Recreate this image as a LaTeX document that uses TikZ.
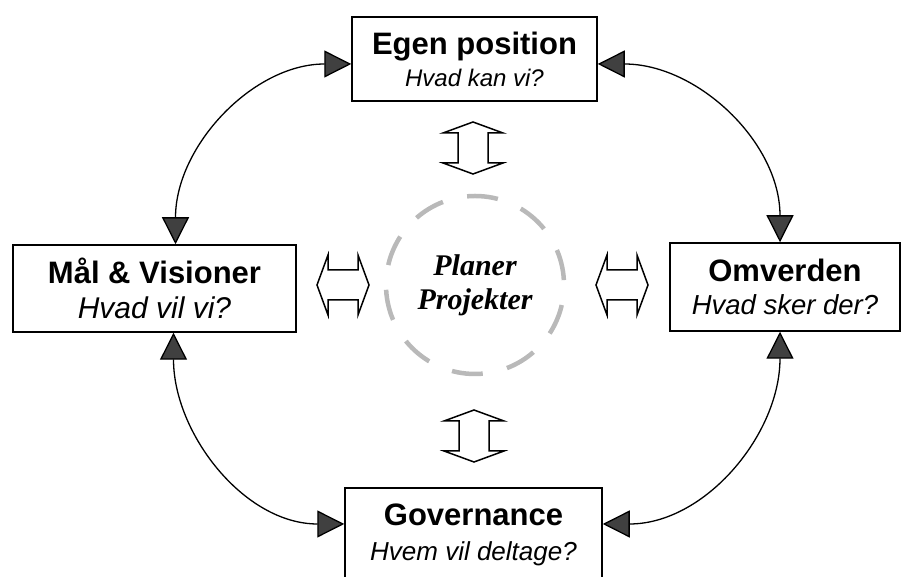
\documentclass[tikz,border=0pt]{standalone}
\usepackage{fontspec}
\usepackage{tikz}
\usetikzlibrary{arrows.meta}
\newfontfamily\boksfont{Liberation Sans}
\newfontfamily\planfont{Liberation Serif}

\begin{document}
\begin{tikzpicture}[x=1pt,y=1pt,
  boks/.style = {draw, rectangle, line width=1.5pt, align=center, inner sep=0pt, font=\boksfont\fontsize{31}{34}\selectfont},
  plan/.style = {circle, draw=gray!55, line width=4.5pt, dash pattern=on 31pt off 24.9pt, dash phase=51pt, minimum size=178pt, align=center, inner sep=0pt, font=\planfont\fontsize{30}{34}\selectfont\bfseries\itshape},
  forb/.style = {line width=1.3pt, {Triangle[length=27pt,width=27pt,fill=black!75]}-{Triangle[length=27pt,width=27pt,fill=black!75]}},
  dpil/.pic = {\draw[line width=1.5pt, fill=white] (0,26) -- (30,15) -- (15,15) -- (15,-15) -- (30,-15) -- (0,-26) -- (-30,-15) -- (-15,-15) -- (-15,15) -- (-30,15) -- cycle;}]
\useasboundingbox (0,0) rectangle (902,577);

\node[boks, minimum width=245pt, minimum height=84pt] (egen) at (474.5,518) {\bfseries Egen position\\[-2pt] {\fontsize{24}{28}\selectfont\itshape Hvad kan vi?}};
\node[boks, minimum width=283pt, minimum height=87pt] (maal) at (154.5,288.5) {\bfseries M\aa l \& Visioner\\[1pt] {\fontsize{30}{30}\selectfont\itshape Hvad vil vi?}};
\node[boks, minimum width=230pt, minimum height=88pt] (omv) at (785,290) {\bfseries Omverden\\[-1pt] {\fontsize{27.5}{30}\selectfont\itshape Hvad sker der?}};
\node[boks, minimum width=257pt, minimum height=94pt] (gov) at (473.5,42) {\bfseries Governance\\[1pt] {\fontsize{26}{30}\selectfont\itshape Hvem vil deltage?}};
\node[plan] (planer) at (475,292) {Planer\\Projekter};

\pic at (473,429) {dpil};
\pic at (474,141) {dpil};
\pic[rotate=90] at (343,292) {dpil};
\pic[rotate=90] at (622,292) {dpil};

\draw[forb] ([yshift=-5pt]egen.west) to[out=180,in=90] ([xshift=21pt]maal.north);
\draw[forb] ([yshift=-5pt]egen.east) to[out=0,in=90] ([xshift=-5pt]omv.north);
\draw[forb] ([xshift=-5pt]omv.south) to[out=-90,in=0] ([yshift=11pt]gov.east);
\draw[forb] ([xshift=19pt]maal.south) to[out=-90,in=180] ([yshift=11pt]gov.west);
\end{tikzpicture}
\end{document}
